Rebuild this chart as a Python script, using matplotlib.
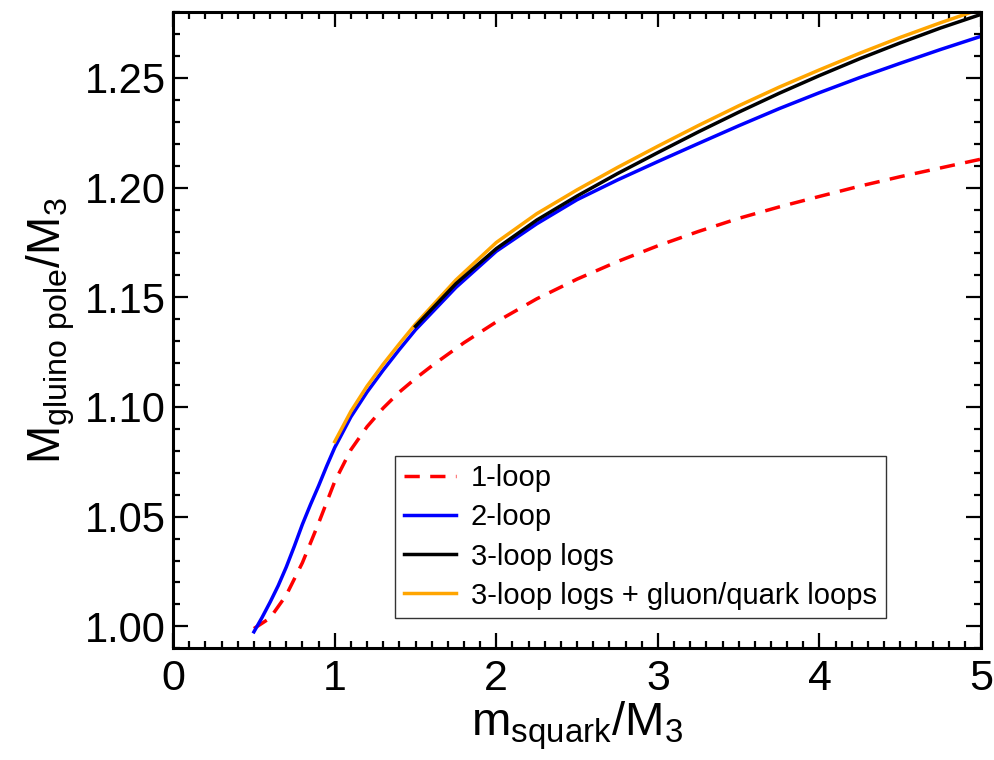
import matplotlib
matplotlib.use('Agg')
import matplotlib.pyplot as plt
from matplotlib.ticker import MultipleLocator

plt.rcParams['font.family'] = ['Liberation Sans', 'DejaVu Sans']
plt.rcParams['mathtext.fontset'] = 'custom'
plt.rcParams['mathtext.rm'] = 'Liberation Sans'
plt.rcParams['mathtext.default'] = 'regular'

### gluino pole mass vs squark mass, both in units of M3 ----------
x_1loop = [0.5, 0.6, 0.7, 0.8, 0.9, 1.0, 1.1, 1.2, 1.3, 1.4, 1.5, 1.6,
           1.8, 2.0, 2.25, 2.5, 2.75, 3.0, 3.25, 3.5, 3.75, 4.0, 4.25,
           4.5, 4.75, 5.0]
y_1loop = [0.999, 1.0038, 1.0142, 1.029, 1.047, 1.066, 1.0805, 1.091,
           1.0995, 1.1068, 1.113, 1.1187, 1.1293, 1.1388, 1.1493, 1.1583,
           1.1663, 1.1735, 1.180, 1.186, 1.1912, 1.196, 1.2007, 1.205,
           1.209, 1.213]

x_2loop = [0.5, 0.55, 0.6, 0.65, 0.7, 0.75, 0.8, 0.85, 0.9, 0.95, 1.0,
           1.1, 1.2, 1.3, 1.4, 1.5, 1.75, 2.0, 2.25, 2.5, 2.75, 3.0,
           3.25, 3.5, 3.75, 4.0, 4.25, 4.5, 4.75, 5.0]
y_2loop = [0.9975, 1.004, 1.011, 1.0185, 1.027, 1.0365, 1.0465, 1.0555,
           1.064, 1.073, 1.0815, 1.0955, 1.1068, 1.1168, 1.1262, 1.1352,
           1.1545, 1.171, 1.1835, 1.1945, 1.2035, 1.2119, 1.2201, 1.2282,
           1.236, 1.2433, 1.2502, 1.2567, 1.263, 1.269]

x_3loop = [1.5, 1.75, 2.0, 2.25, 2.5, 2.75, 3.0, 3.25, 3.5, 3.75, 4.0,
           4.25, 4.5, 4.75, 5.0]
y_3loop = [1.1368, 1.1562, 1.1722, 1.1852, 1.1962, 1.2064, 1.216,
           1.2254, 1.2344, 1.243, 1.2511, 1.2588, 1.266, 1.2728, 1.279]

x_3loop_gq = [1.0, 1.1, 1.2, 1.3, 1.4, 1.5, 1.75, 2.0, 2.25, 2.5, 2.75,
              3.0, 3.25, 3.5, 3.75, 4.0, 4.25, 4.5, 4.75, 5.0]
y_3loop_gq = [1.0842, 1.098, 1.1095, 1.1195, 1.1288, 1.1378, 1.1579,
              1.175, 1.1881, 1.199, 1.2092, 1.2189, 1.2283, 1.2373,
              1.2458, 1.2537, 1.2613, 1.2685, 1.2752, 1.2815]

labels = ['1-loop', '2-loop', '3-loop logs',
          '3-loop logs + gluon/quark loops']

fig = plt.figure(figsize=(9.95, 7.6), dpi=100)
ax = fig.add_axes([0.174, 0.147, 0.812, 0.837])

lw = 2.5
ax.plot(x_1loop, y_1loop, color='red', lw=lw, dashes=(4.4, 3.0), label=labels[0])
ax.plot(x_2loop, y_2loop, color='blue', lw=lw, label=labels[1])
ax.plot(x_3loop, y_3loop, color='black', lw=lw, label=labels[2], zorder=3)
ax.plot(x_3loop_gq, y_3loop_gq, color='orange', lw=lw, label=labels[3], zorder=2)

ax.set_xlim(0, 5)
ax.set_ylim(0.99, 1.28)
ax.xaxis.set_major_locator(MultipleLocator(1))
ax.xaxis.set_minor_locator(MultipleLocator(0.1))
ax.yaxis.set_major_locator(MultipleLocator(0.05))
ax.yaxis.set_minor_locator(MultipleLocator(0.01))
ax.yaxis.set_major_formatter(plt.FormatStrFormatter('%.2f'))

ax.tick_params(which='both', direction='in', top=True, right=True, width=1.6)
ax.tick_params(which='major', length=11)
ax.tick_params(which='minor', length=5)
ax.tick_params(axis='x', labelsize=31, pad=8)
ax.tick_params(axis='y', labelsize=30, pad=5)
for s in ax.spines.values():
    s.set_linewidth(2.2)

ax.set_xlabel(r'$m_{squark}/M_3$', fontsize=34, labelpad=0)
ax.set_ylabel(r'$M_{gluino\ pole}/M_3$', fontsize=33, labelpad=6)

leg = ax.legend(loc='lower right', bbox_to_anchor=(0.882, 0.047),
                borderaxespad=0, fontsize=21, frameon=True, fancybox=False,
                edgecolor='black', handlelength=1.8, handletextpad=0.5,
                labelspacing=0.38, borderpad=0.3)
leg.get_frame().set_linewidth(1.0)

fig.savefig('out.png', dpi=100)
